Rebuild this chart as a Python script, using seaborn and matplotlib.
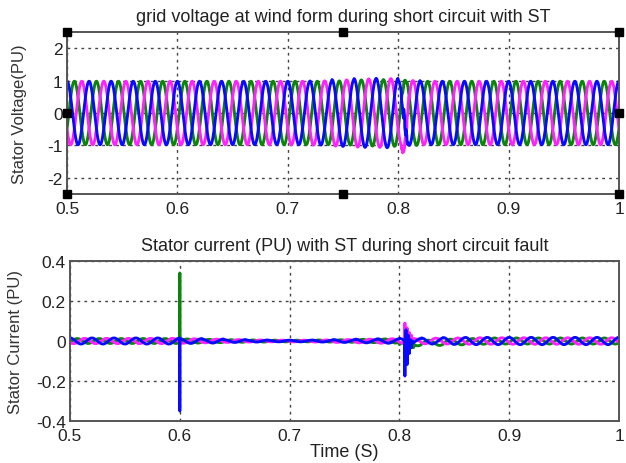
import numpy as np
import pandas as pd
import matplotlib
matplotlib.use("Agg")
import matplotlib.pyplot as plt
import seaborn as sns

# ---------------- data ----------------
phase_names = ["green", "magenta", "blue"]
grid_freq_hz = 50                      # 25 cycles between 0.5 s and 1.0 s
phase_lag_deg = [120, 240, 0]          # green, magenta, blue
t_start, t_stop = 0.5, 1.0
sample_step = 0.0002

# peak stator voltage (PU) for each 20 ms cycle (25 cycles)
volt_peak_green = [0.98, 0.98, 0.98, 0.98, 0.98, 0.98, 0.98, 0.98, 0.98, 0.98,
                   0.98, 0.98, 0.99, 1.02, 1.03, 1.0, 0.98, 0.98, 0.98, 0.98,
                   0.98, 0.98, 0.98, 0.98, 0.98]
volt_peak_magenta = [0.98, 0.98, 0.98, 0.98, 0.98, 0.98, 0.98, 0.98, 0.98, 0.98,
                     0.98, 0.99, 1.02, 1.05, 1.06, 1.0, 0.98, 0.98, 0.98, 0.98,
                     0.98, 0.98, 0.98, 0.98, 0.98]
volt_peak_blue = [0.98, 0.98, 0.98, 0.98, 0.98, 0.98, 0.98, 0.98, 0.98, 0.98,
                  0.98, 0.99, 1.03, 1.06, 1.07, 1.0, 0.98, 0.98, 0.98, 0.98,
                  0.98, 0.98, 0.98, 0.98, 0.98]

# voltage disturbance at the fault (offsets, PU), one value per ms from 0.802 s
volt_fault_times = [0.802, 0.803, 0.804, 0.805, 0.806, 0.807, 0.808, 0.809, 0.810, 0.811]
volt_fault_green = [0.0, 0.05, -0.05, 0.04, 0.0, -0.03, 0.02, 0.0, 0.0, 0.0]
volt_fault_magenta = [0.0, -0.12, -0.25, -0.32, -0.2, -0.28, -0.1, 0.05, -0.04, 0.0]
volt_fault_blue = [0.0, -0.18, -0.22, 0.12, -0.15, 0.08, -0.05, 0.03, 0.0, 0.0]

# stator current ripple (PU) for each 20 ms cycle
curr_peak_green = [0.012, 0.012, 0.012, 0.012, 0.012, 0.010, 0.008, 0.006, 0.005, 0.004,
                   0.004, 0.005, 0.006, 0.008, 0.010, 0.012, 0.013, 0.014, 0.014, 0.015,
                   0.015, 0.015, 0.015, 0.015, 0.015]
curr_peak_magenta = [0.013, 0.013, 0.013, 0.013, 0.013, 0.011, 0.009, 0.007, 0.005, 0.004,
                     0.004, 0.005, 0.007, 0.009, 0.011, 0.012, 0.014, 0.015, 0.016, 0.016,
                     0.016, 0.016, 0.016, 0.016, 0.016]
curr_peak_blue = [0.015, 0.015, 0.015, 0.015, 0.015, 0.012, 0.010, 0.007, 0.005, 0.004,
                  0.004, 0.005, 0.007, 0.009, 0.011, 0.013, 0.015, 0.017, 0.018, 0.018,
                  0.018, 0.018, 0.018, 0.018, 0.018]
# slow offset of the current after the fault (PU) per cycle
curr_offset_green = [0, 0, 0, 0, 0, 0, 0, 0, 0, 0, 0, 0, 0, 0, 0,
                     -0.012, -0.009, -0.005, -0.002, 0, 0, 0, 0, 0, 0]

# switching spike at 0.6 s (PU)
spike_time = 0.6
spike_green = 0.34
spike_blue = -0.35

# current transient at the fault (offsets, PU), one value per ms from 0.804 s
curr_fault_times = [0.804, 0.805, 0.806, 0.807, 0.808, 0.809, 0.810, 0.811, 0.812, 0.813]
curr_fault_green = [0.0, -0.03, -0.07, -0.02, -0.05, -0.03, -0.03, -0.02, -0.02, -0.015]
curr_fault_magenta = [0.02, 0.10, -0.03, 0.07, 0.0, 0.04, -0.01, 0.02, 0.0, 0.0]
curr_fault_blue = [0.0, -0.175, 0.06, -0.11, 0.04, -0.05, 0.02, -0.02, 0.01, 0.0]

# ---------------- build the series ----------------
t = t_start + sample_step * np.arange(int(round((t_stop - t_start) / sample_step)) + 1)
cycle = np.minimum(((t - t_start) * grid_freq_hz).astype(int), 24)


def idx(time):
    return int(round((time - t_start) / sample_step))


def carrier(k):
    return np.cos(2 * np.pi * grid_freq_hz * (t - t_start) - np.deg2rad(phase_lag_deg[k]))


volt = []
for k, (peak, dist) in enumerate([(volt_peak_green, volt_fault_green),
                                  (volt_peak_magenta, volt_fault_magenta),
                                  (volt_peak_blue, volt_fault_blue)]):
    v = np.asarray(peak)[cycle] * carrier(k)
    for tf, dv in zip(volt_fault_times, dist):
        i = idx(tf)
        v[i:i + 5] += dv
    volt.append(v)

curr = []
for k, (peak, dist) in enumerate([(curr_peak_green, curr_fault_green),
                                  (curr_peak_magenta, curr_fault_magenta),
                                  (curr_peak_blue, curr_fault_blue)]):
    c = np.asarray(peak)[cycle] * carrier(k)
    if k == 0:
        c = c + np.asarray(curr_offset_green, dtype=float)[cycle]
    for tf, dc in zip(curr_fault_times, dist):
        c[idx(tf)] += dc
    curr.append(c)
curr[0][idx(spike_time)] = spike_green
curr[2][idx(spike_time)] = spike_blue

df_v = pd.concat([pd.DataFrame({"t": t, "val": volt[k], "phase": phase_names[k]})
                  for k in range(3)], ignore_index=True)
df_c = pd.concat([pd.DataFrame({"t": t, "val": curr[k], "phase": phase_names[k]})
                  for k in range(3)], ignore_index=True)

# ---------------- plot ----------------
sns.set_style("white")
plt.rcParams["font.family"] = ["Liberation Sans", "DejaVu Sans"]
palette = {"green": "#0a840a", "magenta": "#ff22ff", "blue": "#0a0aff"}

fig = plt.figure(figsize=(6.26, 4.64), dpi=100)
ax1 = fig.add_axes([67 / 626, 1 - 195 / 464, 552 / 626, 162 / 464])
ax2 = fig.add_axes([70 / 626, 1 - 422 / 464, 549 / 626, 160 / 464])

for ax, df in ((ax1, df_v), (ax2, df_c)):
    sns.lineplot(data=df, x="t", y="val", hue="phase", hue_order=phase_names,
                 palette=palette, estimator=None, sort=False, legend=False,
                 linewidth=2.1, ax=ax)

xt = [0.5, 0.6, 0.7, 0.8, 0.9, 1.0]
xtl = ["0.5", "0.6", "0.7", "0.8", "0.9", "1"]
for ax in (ax1, ax2):
    ax.set_xlim(0.5, 1.0)
    ax.set_xticks(xt)
    ax.set_xticklabels(xtl)
    ax.grid(True, color="#444444", linestyle=(0, (2, 3)), linewidth=1.0)
    ax.set_axisbelow(True)
    for s in ax.spines.values():
        s.set_color("#555555")
        s.set_linewidth(1.4)
    ax.tick_params(direction="in", length=4, color="#555555", labelsize=12.5,
                   labelcolor="#222222", pad=3)
    ax.tick_params(axis="x", pad=5)
    ax.set_xlabel("")

ax1.set_ylim(-2.5, 2.5)
ax1.set_yticks([-2, -1, 0, 1, 2])
ax1.set_yticklabels(["-2", "-1", "0", "1", "2"])
ax2.set_ylim(-0.4, 0.4)
ax2.set_yticks([-0.4, -0.2, 0, 0.2, 0.4])
ax2.set_yticklabels(["-0.4", "-0.2", "0", "0.2", "0.4"])

ax1.set_title("grid voltage at wind form during short circuit with ST",
              fontsize=13, color="#222222", pad=8)
ax2.set_title("Stator current (PU) with ST during short circuit fault",
              fontsize=13, color="#222222", pad=8)
ax1.set_ylabel("Stator Voltage(PU)", fontsize=12, color="#333333")
ax2.set_ylabel("Stator Current (PU)", fontsize=12, color="#333333")
ax1.yaxis.set_label_coords(-0.072, 0.5)
ax2.yaxis.set_label_coords(-0.086, 0.5)
ax2.set_xlabel("Time (S)", fontsize=13, color="#222222", labelpad=0)

# figure-editing handles on the upper axes
hx = [0, 0, 0, 0.5, 0.5, 1, 1, 1]
hy = [0, 0.5, 1, 0, 1, 0, 0.5, 1]
ax1.plot(hx, hy, "s", color="black", markersize=6, transform=ax1.transAxes,
         clip_on=False, zorder=10)

fig.savefig("out.png", dpi=100)
